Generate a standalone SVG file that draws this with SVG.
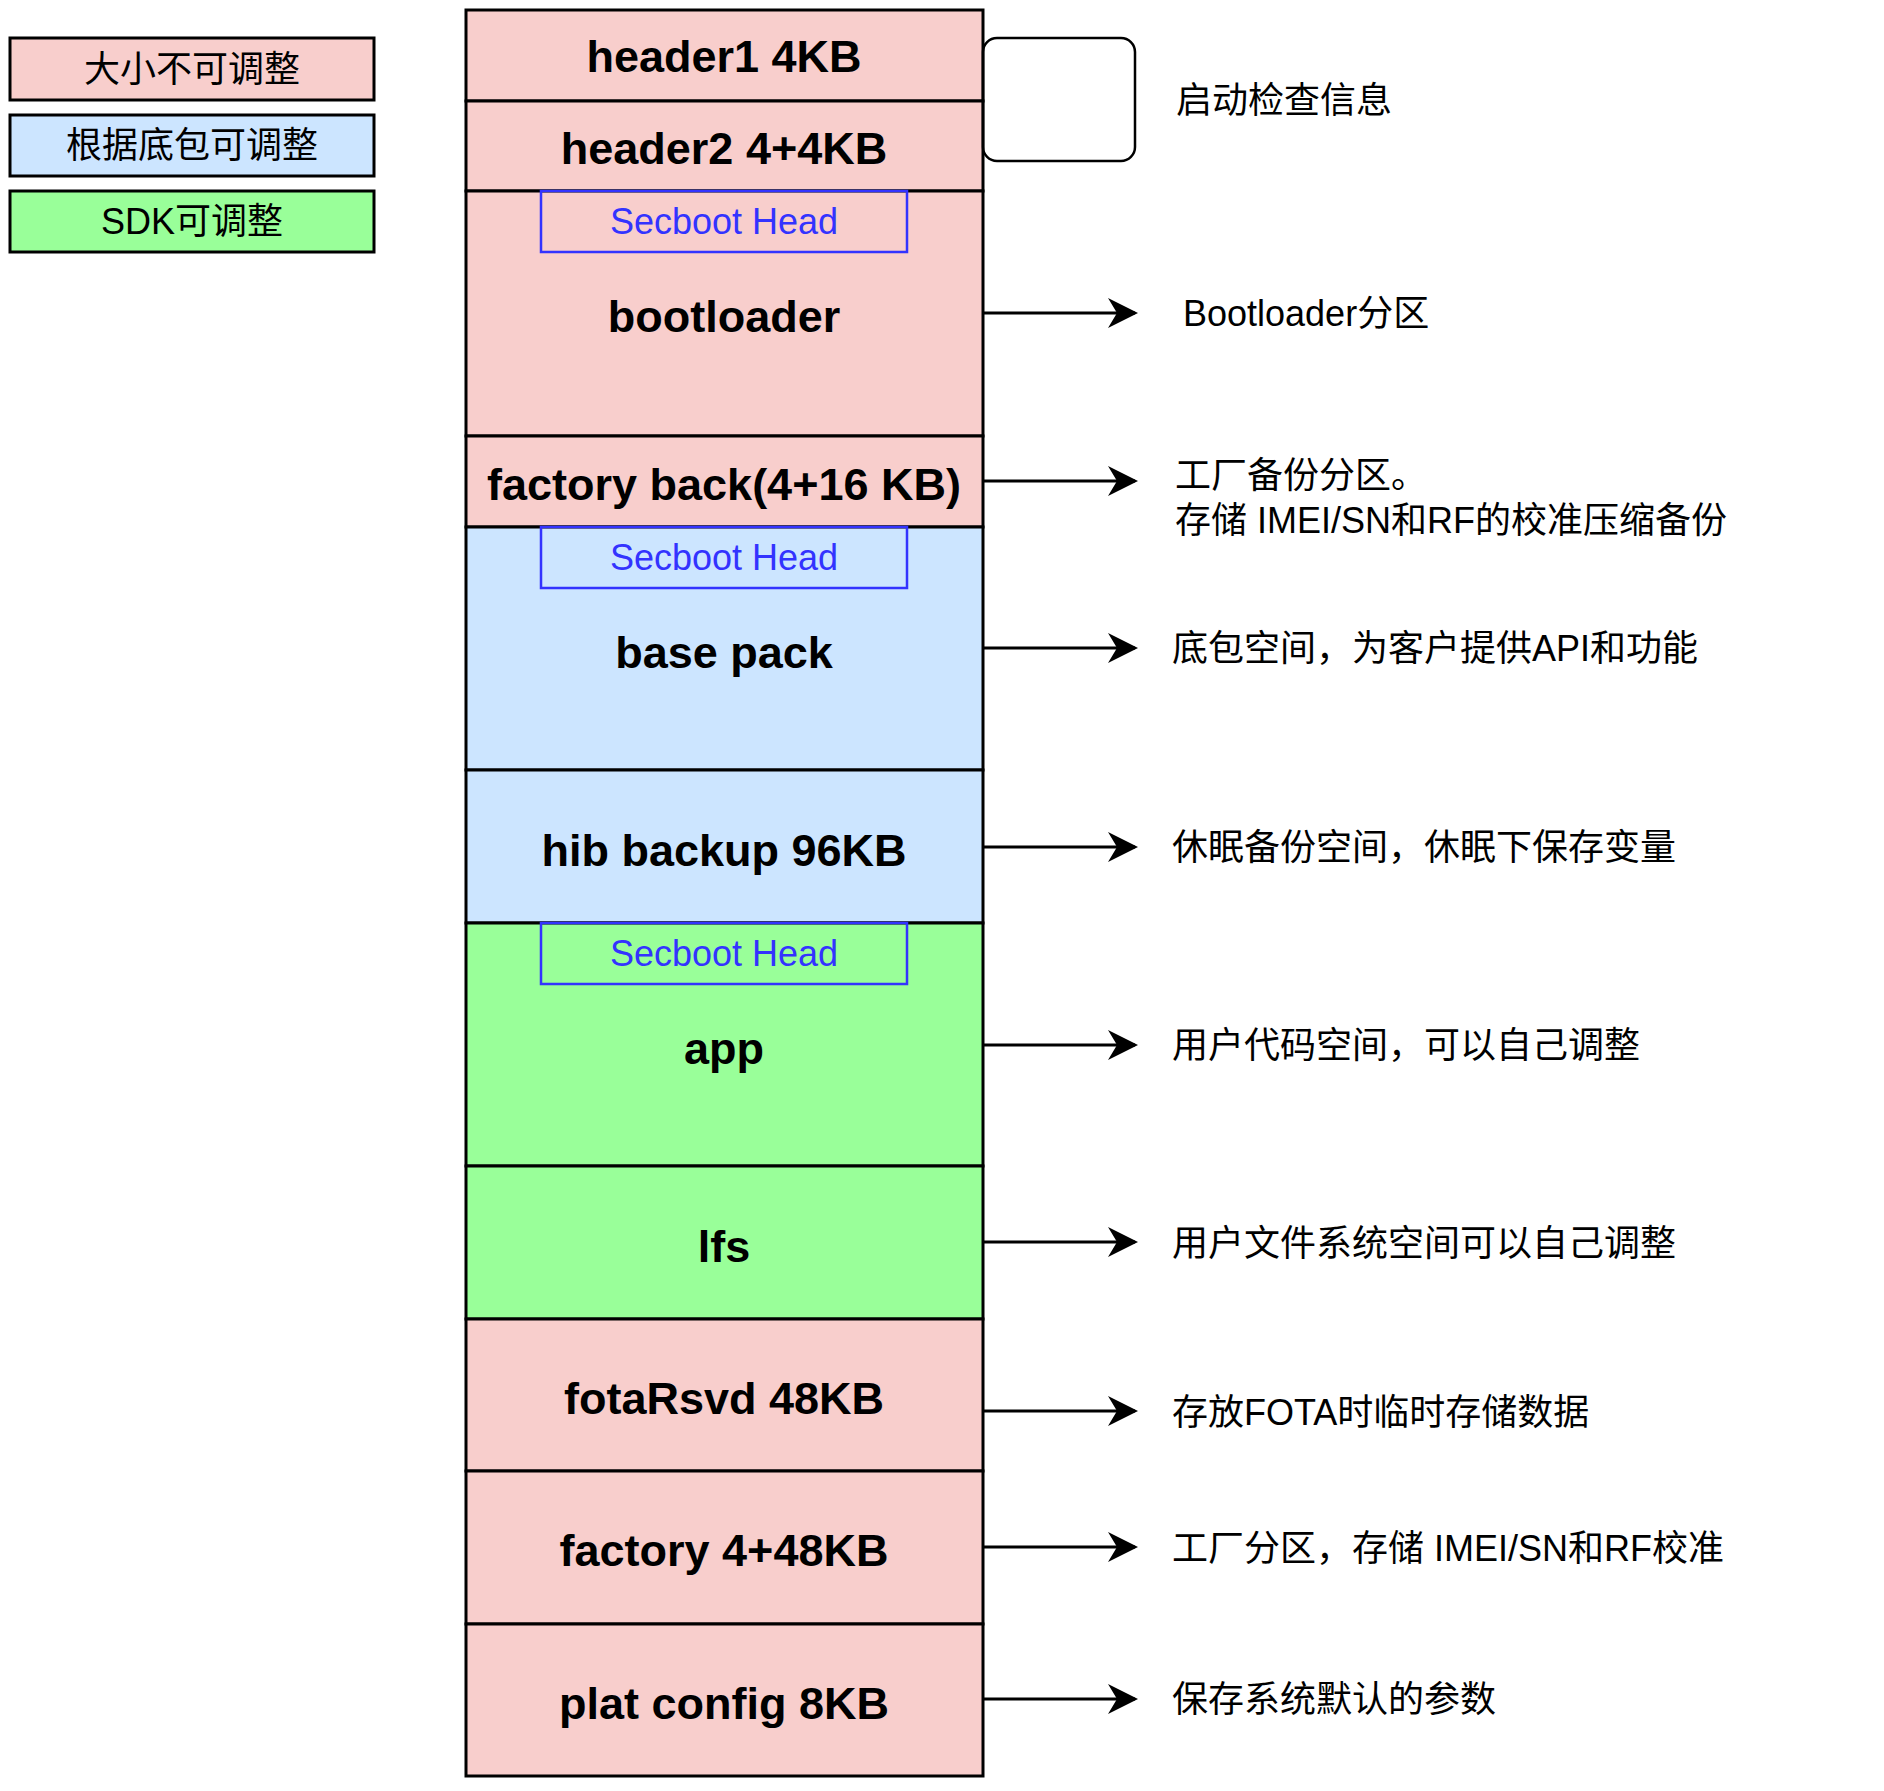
<svg xmlns="http://www.w3.org/2000/svg" width="1884" height="1791" viewBox="0 0 1884 1791">
<style>
.b{stroke:#000;stroke-width:3}
.p{fill:#f8cecc}.bl{fill:#cce5ff}.g{fill:#99ff99}
.t{font-family:"Liberation Sans","Noto Sans CJK SC",sans-serif;dominant-baseline:central}
.m{font-size:45px;font-weight:bold;text-anchor:middle}
.s{fill:none;stroke:#3333ff;stroke-width:2.5}
.st{font-size:36px;fill:#3333ff;text-anchor:middle}
.r{font-size:36px}
.lg{font-size:36px;text-anchor:middle}
.c{stroke:#000;stroke-width:3;fill:none;marker-end:url(#a)}
</style>
<defs><marker id="a" markerWidth="10" markerHeight="10" refX="9" refY="5" orient="auto" markerUnits="userSpaceOnUse" viewBox="0 0 10 10"><path d="M0,0 L10,5 L0,10 L3,5 Z" fill="#000"/></marker>
<marker id="a2" viewBox="0 0 20 20" refX="18" refY="10" markerWidth="30" markerHeight="30" orient="auto" markerUnits="userSpaceOnUse"><path d="M0,0 L20,10 L0,20 L6,10 Z" fill="#000"/></marker></defs>
<g id="legend">
<rect class="b p" x="10" y="38" width="364" height="62"/><text class="t lg" x="192" y="69">大小不可调整</text>
<rect class="b bl" x="10" y="115" width="364" height="61"/><text class="t lg" x="192" y="145">根据底包可调整</text>
<rect class="b g" x="10" y="191" width="364" height="61"/><text class="t lg" x="192" y="221">SDK可调整</text>
</g>
<g id="header1"><rect class="b p" x="466" y="10" width="517" height="91"/><text class="t m" x="724" y="56">header1 4KB</text></g>
<g id="header2"><rect class="b p" x="466" y="101" width="517" height="90"/><text class="t m" x="724" y="148">header2 4+4KB</text></g>
<g id="bootloader"><rect class="b p" x="466" y="191" width="517" height="245"/><text class="t m" x="724" y="316">bootloader</text></g>
<g id="factoryback"><rect class="b p" x="466" y="436" width="517" height="91"/><text class="t m" x="724" y="484">factory back(4+16 KB)</text></g>
<g id="basepack"><rect class="b bl" x="466" y="527" width="517" height="243"/><text class="t m" x="724" y="652">base pack</text></g>
<g id="hib"><rect class="b bl" x="466" y="770" width="517" height="153"/><text class="t m" x="724" y="850">hib backup 96KB</text></g>
<g id="app"><rect class="b g" x="466" y="923" width="517" height="243"/><text class="t m" x="724" y="1048">app</text></g>
<g id="lfs"><rect class="b g" x="466" y="1166" width="517" height="153"/><text class="t m" x="724" y="1246">lfs</text></g>
<g id="fota"><rect class="b p" x="466" y="1319" width="517" height="152"/><text class="t m" x="724" y="1398">fotaRsvd 48KB</text></g>
<g id="factory"><rect class="b p" x="466" y="1471" width="517" height="153"/><text class="t m" x="724" y="1550">factory 4+48KB</text></g>
<g id="plat"><rect class="b p" x="466" y="1624" width="517" height="152"/><text class="t m" x="724" y="1703">plat config 8KB</text></g>
<g id="secboot1"><rect class="s" x="541" y="191" width="366" height="61"/><text class="t st" x="724" y="221">Secboot Head</text></g>
<g id="secboot2"><rect class="s" x="541" y="527" width="366" height="61"/><text class="t st" x="724" y="557">Secboot Head</text></g>
<g id="secboot3"><rect class="s" x="541" y="923" width="366" height="61"/><text class="t st" x="724" y="953">Secboot Head</text></g>
<g id="bracket"><rect x="983" y="38" width="152" height="123" rx="14" fill="none" stroke="#000" stroke-width="2.5"/></g>
<g id="connectors">
<line class="c" style="marker-end:url(#a2)" x1="983" y1="313" x2="1135" y2="313"/>
<line class="c" style="marker-end:url(#a2)" x1="983" y1="481" x2="1135" y2="481"/>
<line class="c" style="marker-end:url(#a2)" x1="983" y1="648" x2="1135" y2="648"/>
<line class="c" style="marker-end:url(#a2)" x1="983" y1="847" x2="1135" y2="847"/>
<line class="c" style="marker-end:url(#a2)" x1="983" y1="1045" x2="1135" y2="1045"/>
<line class="c" style="marker-end:url(#a2)" x1="983" y1="1242" x2="1135" y2="1242"/>
<line class="c" style="marker-end:url(#a2)" x1="983" y1="1411" x2="1135" y2="1411"/>
<line class="c" style="marker-end:url(#a2)" x1="983" y1="1547" x2="1135" y2="1547"/>
<line class="c" style="marker-end:url(#a2)" x1="983" y1="1699" x2="1135" y2="1699"/>
</g>
<g id="notes">
<text class="t r" x="1176" y="100">启动检查信息</text>
<text class="t r" x="1183" y="313">Bootloader分区</text>
<text class="t r" x="1175" y="475">工厂备份分区。</text>
<text class="t r" x="1175" y="520">存储 IMEI/SN和RF的校准压缩备份</text>
<text class="t r" x="1172" y="648">底包空间，为客户提供API和功能</text>
<text class="t r" x="1172" y="847">休眠备份空间，休眠下保存变量</text>
<text class="t r" x="1172" y="1045">用户代码空间，可以自己调整</text>
<text class="t r" x="1172" y="1243">用户文件系统空间可以自己调整</text>
<text class="t r" x="1172" y="1412">存放FOTA时临时存储数据</text>
<text class="t r" x="1172" y="1548">工厂分区，存储 IMEI/SN和RF校准</text>
<text class="t r" x="1172" y="1699">保存系统默认的参数</text>
</g>
</svg>
